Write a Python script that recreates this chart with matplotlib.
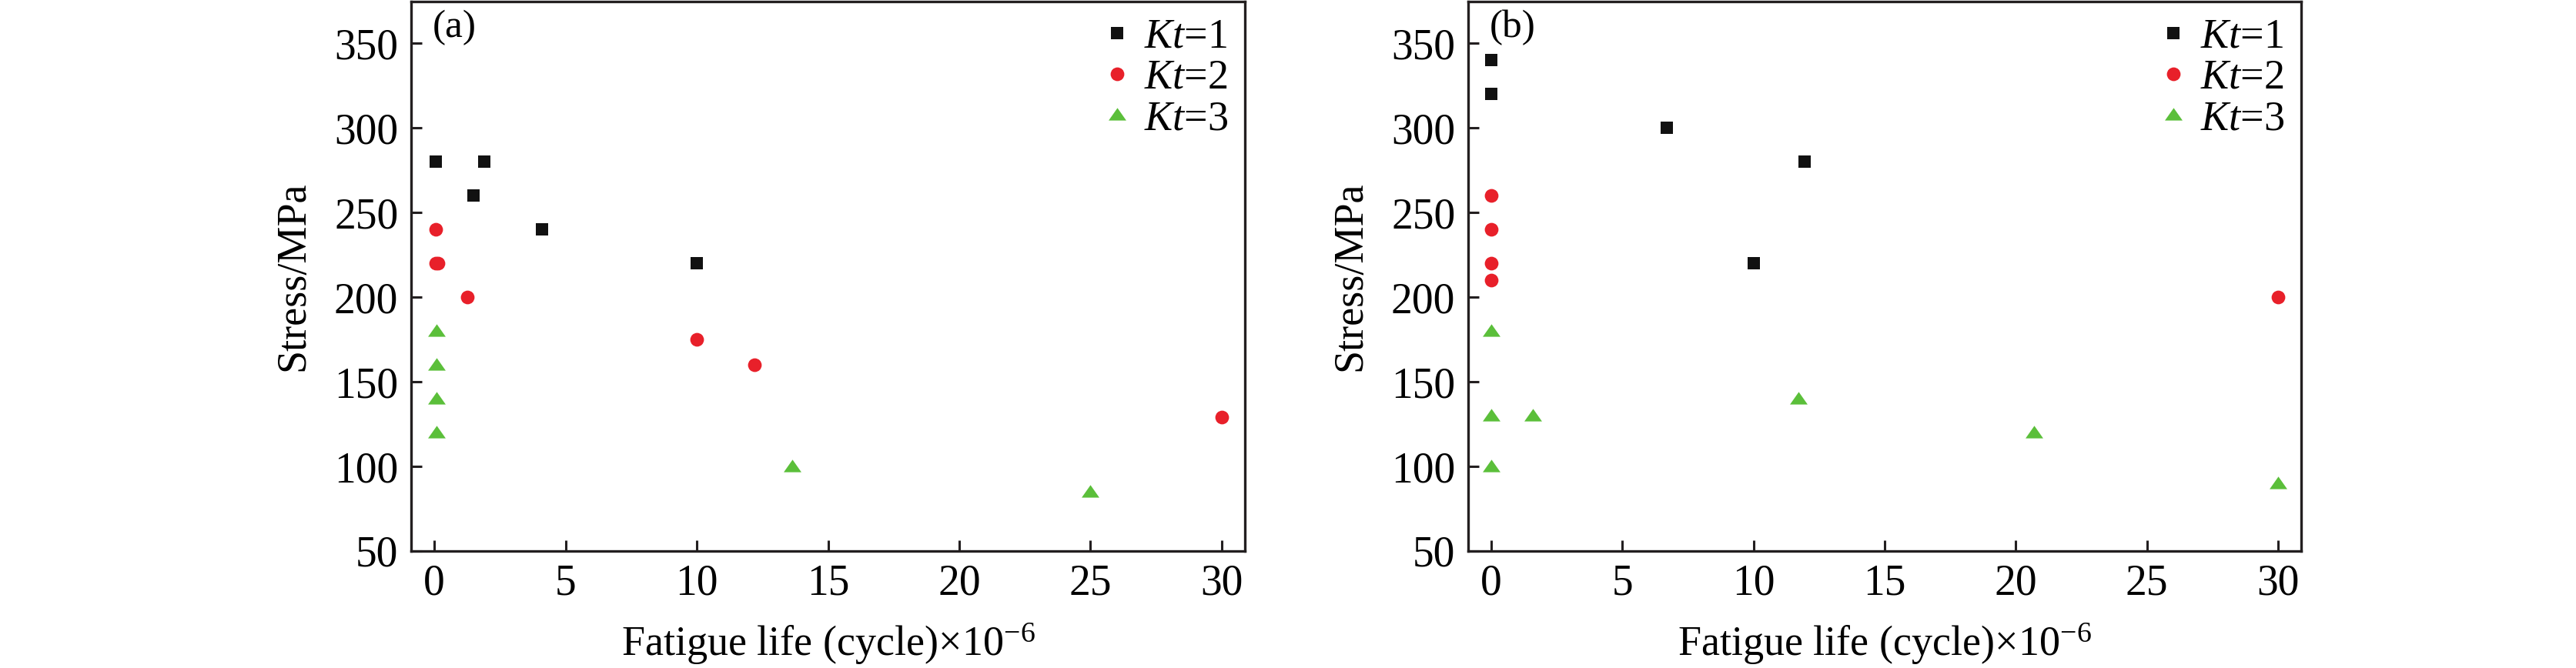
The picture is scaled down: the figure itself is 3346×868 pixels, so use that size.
import numpy as np
import matplotlib
matplotlib.use('Agg')
import matplotlib.pyplot as plt
from matplotlib.path import Path

fs = 40
plt.rcParams['font.family'] = 'serif'
plt.rcParams['font.serif'] = ['Liberation Serif']
plt.rcParams['mathtext.fontset'] = 'custom'
plt.rcParams['mathtext.rm'] = 'Liberation Serif'
plt.rcParams['mathtext.it'] = 'Liberation Serif:italic'
plt.rcParams['xtick.labelsize'] = fs
plt.rcParams['ytick.labelsize'] = fs

# panel (a)
a_kt1_x = [0.05, 1.5, 1.9, 4.1, 10.0]
a_kt1_y = [280, 260, 280, 240, 220]
a_kt2_x = [0.05, 0.05, 0.15, 1.25, 10.0, 12.2, 30.0]
a_kt2_y = [240, 220, 220, 200, 175, 160, 129]
a_kt3_x = [0.08, 0.1, 0.1, 0.1, 13.65, 25.0]
a_kt3_y = [180, 160, 140, 120, 100, 85]

# panel (b)
b_kt1_x = [0.0, 0.0, 6.7, 10.0, 11.95]
b_kt1_y = [340, 320, 300, 220, 280]
b_kt2_x = [0.0, 0.0, 0.0, 0.0, 30.0]
b_kt2_y = [260, 240, 220, 210, 200]
b_kt3_x = [0.0, 0.0, 0.0, 1.6, 11.7, 20.7, 30.0]
b_kt3_y = [180, 130, 100, 130, 140, 120, 90]

labels = ['$Kt$=1', '$Kt$=2', '$Kt$=3']
xticks = [0, 5, 10, 15, 20, 25, 30]
yticks = [50, 100, 150, 200, 250, 300, 350]

tri = Path([(-1, -0.62), (1, -0.62), (0, 0.8), (-1, -0.62)],
           [Path.MOVETO, Path.LINETO, Path.LINETO, Path.CLOSEPOLY])
styles = [dict(marker='s', color='#111111', markersize=11.5),
          dict(marker='o', color='#e8202a', markersize=12.8),
          dict(marker=tri, color='#5bbf3a', markersize=16.5)]

W, H = 3346, 868
fig = plt.figure(figsize=(W / 100, H / 100), dpi=100, facecolor='white')
ax_a = fig.add_axes([534 / W, 1 - 716 / H, (1617 - 534) / W, (716 - 1.5) / H])
ax_b = fig.add_axes([1907 / W, 1 - 716 / H, (2989 - 1907) / W, (716 - 1.5) / H])

panels = [(ax_a, '(a)', [(a_kt1_x, a_kt1_y), (a_kt2_x, a_kt2_y), (a_kt3_x, a_kt3_y)]),
          (ax_b, '(b)', [(b_kt1_x, b_kt1_y), (b_kt2_x, b_kt2_y), (b_kt3_x, b_kt3_y)])]

for ax, tag, series in panels:
    for (xs, ys), st, lab in zip(series, styles, labels):
        ax.plot(xs, ys, linestyle='none', markeredgewidth=0, label=lab, **st)
    ax.set_xlim(-0.88, 30.88)
    ax.set_ylim(50, 375)
    ax.set_xticks(xticks, [str(t) for t in xticks])
    ax.set_yticks(yticks, [str(t) for t in yticks])
    ax.tick_params(direction='in', length=10, width=2.2, labelsize=fs,
                   color='#231f20', pad=12)
    for sp in ax.spines.values():
        sp.set_linewidth(2.4)
        sp.set_color('#231f20')
    ax.set_xlabel('Fatigue life (cycle)$\\times$10$^{-6}$', fontsize=fs - 1, labelpad=16)
    ax.set_ylabel('Stress/MPa', fontsize=fs - 1, labelpad=20)
    ax.text(0.026, 0.985, tag, transform=ax.transAxes, fontsize=fs - 3,
            ha='left', va='top')
    ax.legend(loc='upper right', frameon=False, fontsize=fs - 1, borderaxespad=0.1,
              borderpad=0.3, labelspacing=0.05, handlelength=0.8,
              handletextpad=0.25, markerscale=1.0)

fig.savefig('out.png', dpi=100, facecolor='white')
